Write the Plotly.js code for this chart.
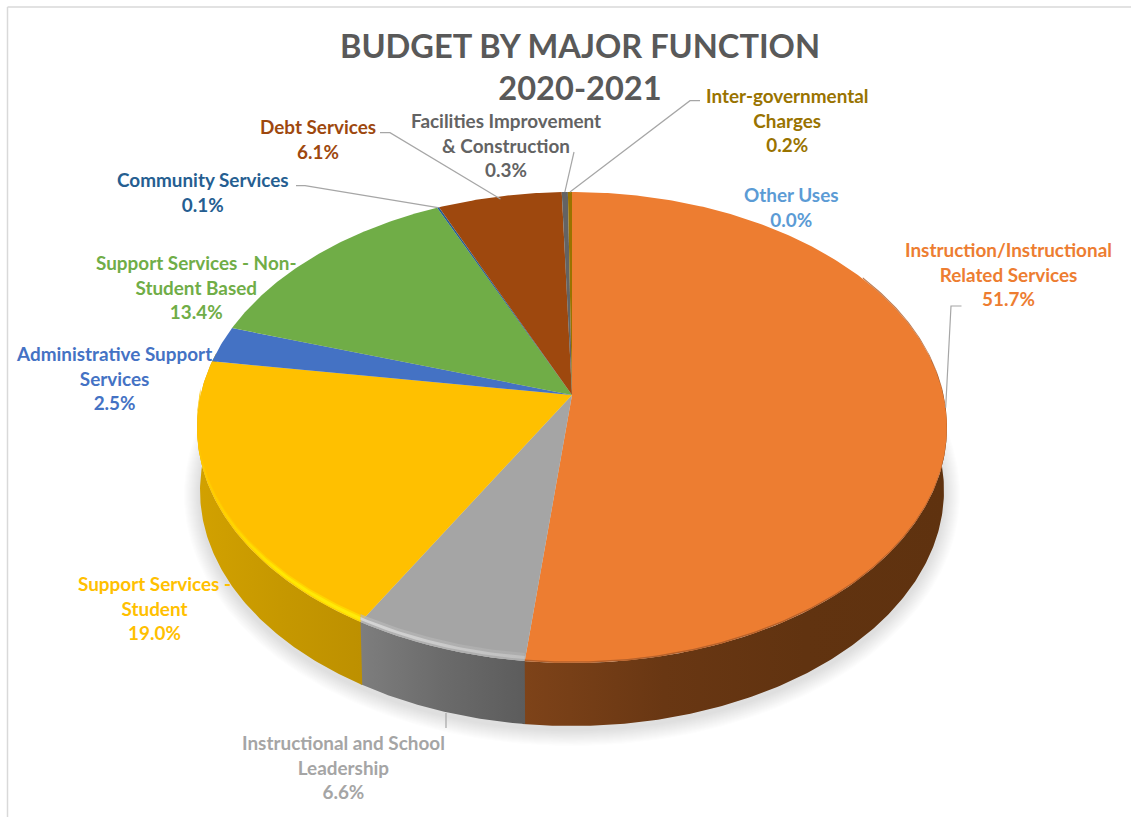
<!DOCTYPE html>
<html>
<head>
<meta charset="utf-8">
<title>Budget by Major Function 2020-2021</title>
<script src="https://cdn.plot.ly/plotly-3.0.1.min.js"></script>
<style>html,body{margin:0;padding:0;background:#fff}#chart{width:1131px;height:817px}</style>
</head>
<body>
<div id="chart"></div>
<script>
// Budget shares, in percent, clockwise from twelve o'clock
const categories = [
  "Instruction/Instructional<br>Related Services",
  "Instructional and School<br>Leadership",
  "Support Services -<br>Student",
  "Administrative Support<br>Services",
  "Support Services - Non-<br>Student Based",
  "Community Services",
  "Debt Services",
  "Facilities Improvement<br>& Construction",
  "Inter-governmental<br>Charges",
  "Other Uses"
];
const shares = [51.7, 6.6, 19.0, 2.5, 13.4, 0.1, 6.1, 0.3, 0.2, 0.0];
const sliceColors = ["#ED7D31","#A5A5A5","#FFC000","#4472C4","#70AD47","#255E91","#9E480E","#636363","#997300","#5B9BD5"];
// Side wall shades from left to right of each visible wall
const wallShades = {
  0: ["#7e4319", "#693713", "#613310", "#5f320f"],
  1: ["#7e7e7e", "#6b6b6b", "#5c5c5c"],
  2: ["#d2a100", "#c69800", "#bd9000"]
};

// Perspective model of the disc: screen position of a point on the unit circle
const APEX_X = 572, APEX_Y = 395, SPREAD = 371.4, RISE = 231, TILT = 0.138, DEPTH = 63, BASE_SCALE = 0.992;
function discPoint(theta, r) {
  const u = r * Math.sin(theta), v = r * Math.cos(theta), w = 1 + TILT * v;
  return [APEX_X + SPREAD * u / w, APEX_Y - RISE * v / w];
}
function basePoint(theta) {
  const p = discPoint(theta, 1);
  return [APEX_X + (p[0] - APEX_X) * BASE_SCALE, p[1] + DEPTH];
}
function arc(fn, a, b) {
  const n = Math.max(2, Math.ceil(Math.abs(b - a) / 0.01)), out = [];
  for (let i = 0; i <= n; i++) out.push(fn(a + (b - a) * i / n));
  return out;
}
function poly(points, extra) {
  return Object.assign({
    x: points.map(p => p[0]), y: points.map(p => p[1]),
    type: "scatter", mode: "lines", fill: "toself", line: {width: 0}, hoverinfo: "skip"
  }, extra);
}
// Left-to-right gradient through evenly spaced colours
function horizontal(stops) {
  return {type: "horizontal", colorscale: stops.map((c, i) => [i / (stops.length - 1), c])};
}

// Slice boundaries derived from the shares
const shareTotal = shares.reduce((s, v) => s + v, 0);
const edges = [0];
shares.forEach(v => edges.push(edges[edges.length - 1] + v / shareTotal * 2 * Math.PI));
const middle = i => (edges[i] + edges[i + 1]) / 2;

const traces = [];

// Soft shadow under the disc
for (let g = 16; g >= 1; g--) {
  const ring = arc(t => {
    const p = basePoint(t);
    return [APEX_X + (p[0] - APEX_X) * (1 + g / 372), 494 + (p[1] - 490) * (1 + g / 238)];
  }, 0, 2 * Math.PI);
  traces.push(poly(ring, {fillcolor: "rgba(90,90,90,0.012)"}));
}

// Side walls of the slices that face the viewer; each overlaps the next to close the seam
Object.keys(wallShades).forEach(k => {
  const i = +k;
  const a = i === 0 ? Math.PI * 0.45 : edges[i];
  const b = i === 2 ? Math.PI * 1.56 : edges[i + 1] + 0.006;
  const pts = arc(t => discPoint(t, 1), a, b).concat(arc(basePoint, b, a));
  traces.push(poly(pts, {fillgradient: horizontal(wallShades[i])}));
});

// Top faces
shares.forEach((v, i) => {
  if (v <= 0) return;
  const pts = [[APEX_X, APEX_Y]].concat(arc(t => discPoint(t, 1), edges[i], edges[i + 1]));
  traces.push(poly(pts, {fillcolor: sliceColors[i]}));
});

// Bevel along the front edge of the top faces: a band from y0 to y1 above the rim
function rim(a, b, y0, y1, stops) {
  const at = h => t => { const p = discPoint(t, 1); return [p[0], p[1] - h]; };
  traces.push(poly(arc(at(y1), a, b).concat(arc(at(y0), b, a)), {fillgradient: horizontal(stops)}));
}
rim(edges[2], Math.PI * 1.5, 0, 7, ["rgba(255,196,0,0.6)", "rgba(255,215,0,0.8)", "rgba(255,222,0,0.8)"]);
rim(edges[2], Math.PI * 1.5, 1.5, 5, ["rgba(255,200,0,1)", "rgba(255,232,0,1)", "rgba(255,235,10,1)"]);
rim(edges[1], edges[2], 0, 8, ["rgba(185,185,185,0.7)", "rgba(178,178,178,0.6)"]);
rim(edges[1], edges[2], 2, 5, ["rgba(214,214,214,1)", "rgba(190,190,190,1)"]);
rim(1.0, edges[1], 0, 1.5, ["rgba(170,90,40,0.8)", "rgba(170,90,40,0.8)"]);

// Leader lines: label end given on screen, disc end taken from the slice midpoint
const LEADER = "#a6a6a6";
function leader(points) {
  traces.push({
    x: points.map(p => p[0]), y: points.map(p => p[1]),
    type: "scatter", mode: "lines", line: {color: LEADER, width: 1.2}, hoverinfo: "skip"
  });
}
leader([[961.5, 306], [951, 306], discPoint(middle(0), 1)]);
leader([[446, 728], [446, 713]]);
leader([[296, 185.7], [305, 185.7], discPoint(middle(5), 1)]);
leader([[380, 132.7], [390, 132.7], discPoint(middle(6), 0.985)]);
leader([[574, 152], discPoint(middle(7), 1)]);
leader([[700, 100.7], [690, 100.7], discPoint(middle(8), 1)]);

// Label centres in screen units, in the same order as the categories
const labelX = [1008, 343, 154, 114, 196, 203, 318, 506, 787, 791];
const labelY = [273.5, 767, 608, 377.5, 286.5, 191.5, 138.5, 145, 119.5, 206.5];
const annotations = categories.map((name, i) => ({
  x: labelX[i], y: labelY[i], xref: "x", yref: "y",
  text: name + "<br>" + shares[i].toFixed(1) + "%",
  showarrow: false, xanchor: "center", yanchor: "middle", align: "center",
  font: {family: "Lato, 'Open Sans', sans-serif", size: 18.9, weight: 700, color: sliceColors[i]}
}));

const layout = {
  width: 1131, height: 817,
  margin: {l: 0, r: 0, t: 0, b: 0},
  paper_bgcolor: "#ffffff", plot_bgcolor: "#ffffff",
  showlegend: false, hovermode: false,
  xaxis: {range: [0, 1131], visible: false, fixedrange: true},
  yaxis: {range: [817, 0], visible: false, fixedrange: true},
  title: {
    text: "BUDGET BY MAJOR FUNCTION<br>2020-2021",
    x: 580 / 1131, xanchor: "center", y: 1 - 58 / 817, yanchor: "top",
    font: {family: "Lato, 'Open Sans', sans-serif", size: 32.6, weight: 700, color: "#595959"}
  },
  annotations: annotations,
  shapes: [
    {type: "line", xref: "x", yref: "y", x0: 7.5, x1: 7.5, y0: 7, y1: 817, line: {color: "#d9d9d9", width: 1.5}},
    {type: "line", xref: "x", yref: "y", x0: 7.5, x1: 1131, y0: 7, y1: 7, line: {color: "#d9d9d9", width: 1.5}}
  ]
};

Plotly.newPlot("chart", traces, layout, {displayModeBar: false, responsive: false});
</script>
</body>
</html>
